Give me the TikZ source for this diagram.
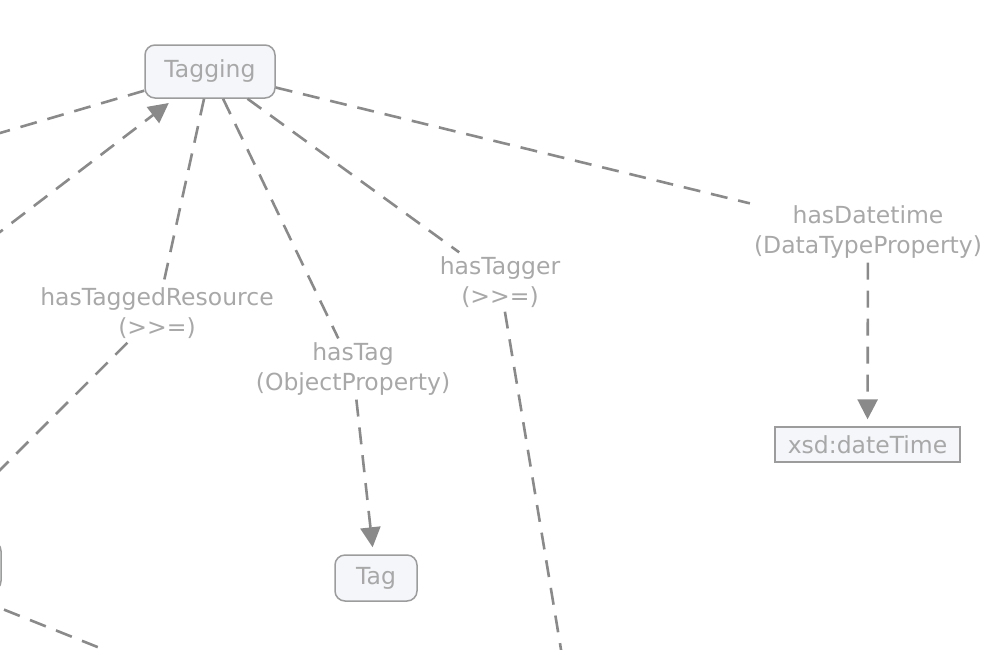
\documentclass[tikz,border=0pt]{standalone}
\usepackage{fontspec}
\setmainfont{DejaVu Sans}[Ligatures=TeXOff]
\usetikzlibrary{arrows.meta}
\definecolor{edgegray}{HTML}{8A8A8A}
\definecolor{textgray}{HTML}{A8A8A8}
\definecolor{boxfill}{HTML}{F4F6FA}
\begin{document}
\begin{tikzpicture}[x=1pt,y=1pt]
      \useasboundingbox (0,0) rectangle (998,-649);
      \clip (0,0) rectangle (998,-649);
      \tikzstyle{every node}+=[inner sep=4pt, text=textgray, font=\fontsize{23.5}{30}\selectfont]
      \tikzstyle{cls}=[draw=edgegray!85, fill=boxfill, rounded corners=10pt, line width=1.5pt]
      \tikzstyle{dtype}=[draw=edgegray!85, fill=boxfill, line width=1.3pt]
      \tikzstyle{lbl}=[align=center]
      \tikzstyle{link}=[draw=edgegray, line width=2.6pt, dash pattern=on 17pt off 11pt]
      \tikzstyle{arr}=[-{Triangle[length=20pt,width=20pt]}, shorten >=7pt]
      \node [cls, minimum width=130pt, minimum height=53pt] (tagging) at (210,-71.5) {Tagging};
      \node [cls, minimum width=82pt, minimum height=46pt] (tag) at (376,-578) {Tag};
      \node [dtype, minimum width=185pt, minimum height=35pt, inner sep=0pt] (xsd) at (867.5,-444.5) {xsd:dateTime};
      \node [cls, minimum width=150pt, minimum height=50pt] (resource) at (-74,-566) {};
      \node [lbl] (lblres) at (157,-313) {hasTaggedResource\\(>>=)};
      \node [lbl] (lbltag) at (353,-369) {hasTag\\(ObjectProperty)};
      \node [lbl] (lbltagger) at (500,-282) {hasTagger\\(>>=)};
      \node [lbl] (lbldate) at (868,-232) {hasDatetime\\(DataTypeProperty)};
      \coordinate (offa) at (-300,-221);
      \coordinate (offb) at (-300,-461);
      \coordinate (offc) at (-200,-670);
      \coordinate (offd) at (586,-800);
      \coordinate (offe) at (-100,-568);
      \coordinate (offf) at (200,-688);
      \draw [link] (tagging) -- (offa);
      \draw [link, arr] (offb) -- (tagging);
      \draw [link] (tagging) -- (lblres);
      \draw [link] (lblres) -- (offc);
      \draw [link] (tagging) -- (lbltag);
      \draw [link, arr] (lbltag) -- (tag);
      \draw [link] (tagging) -- (lbltagger);
      \draw [link] (lbltagger) -- (offd);
      \draw [link] (tagging) -- (lbldate);
      \draw [link, arr] (lbldate) -- (xsd);
      \draw [link] (offe) -- (offf);
\end{tikzpicture}
\end{document}
